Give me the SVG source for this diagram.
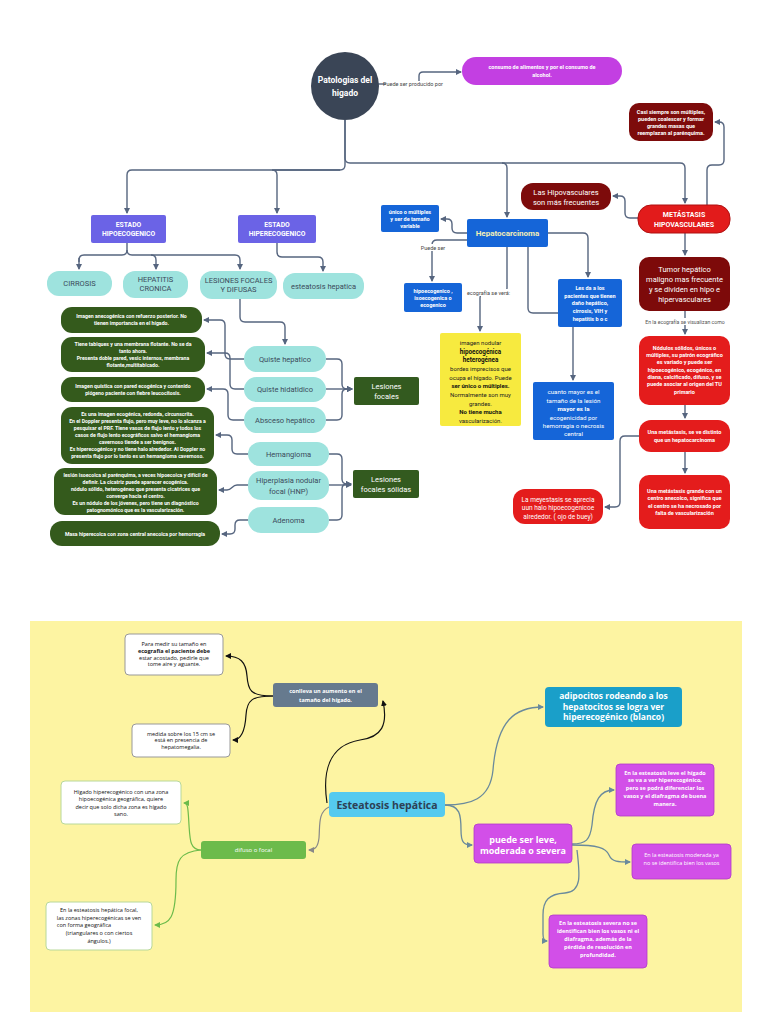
<svg xmlns="http://www.w3.org/2000/svg" width="768" height="1024" viewBox="0 0 768 1024">
<defs>
<marker id="aS" markerUnits="userSpaceOnUse" markerWidth="6" markerHeight="6" refX="5" refY="3" orient="auto"><path d="M0,0 L6,3 L0,6 z" fill="#56657f"/></marker>
<marker id="aK" markerUnits="userSpaceOnUse" markerWidth="6" markerHeight="6" refX="5" refY="3" orient="auto"><path d="M0,0 L6,3 L0,6 z" fill="#111"/></marker>
<marker id="aG" markerUnits="userSpaceOnUse" markerWidth="6" markerHeight="6" refX="5" refY="3" orient="auto"><path d="M0,0 L6,3 L0,6 z" fill="#888"/></marker>
<marker id="aN" markerUnits="userSpaceOnUse" markerWidth="6" markerHeight="6" refX="5" refY="3" orient="auto"><path d="M0,0 L6,3 L0,6 z" fill="#6cbb4b"/></marker>
<marker id="aB" markerUnits="userSpaceOnUse" markerWidth="6" markerHeight="6" refX="5" refY="3" orient="auto"><path d="M0,0 L6,3 L0,6 z" fill="#6a8a9c"/></marker>
</defs>
<style>
text{font-family:Roboto,"Liberation Sans",sans-serif;text-anchor:middle}
.c{fill:none;stroke:#56657f;stroke-width:1.4;marker-end:url(#aS)}
.cn{fill:none;stroke:#56657f;stroke-width:1.4}
.w{fill:#fff}
.b{font-weight:bold}
.teal{fill:#9ee3de}
.tt{fill:#3b4a5a;font-size:7.5px}
.lav{fill:#6b63e6}
.dg{fill:#335a1f}
.gd{fill:#345a1c}
.gt{fill:#fff;font-size:5.2px;font-weight:bold}
.blu{fill:#1565d8}
.bt{fill:#fff;font-size:5.5px;font-weight:bold}
.mar{fill:#7d0b0b}
.red{fill:#e41c1c}
.lbl{fill:#444;font-size:5.5px}
.y text{font-family:"Open Sans","Liberation Sans",sans-serif}
.wb{fill:#fff;stroke:#999;stroke-width:1}
.wg{fill:#fff;stroke:#b8d89a;stroke-width:1}
.mag{fill:#d24fe8;stroke:#b03ac8;stroke-width:0.8}
.mt{fill:#fff;font-size:5.5px;font-weight:bold}
.kt{fill:#111;font-size:5.5px}
.ck{fill:none;stroke:#111;stroke-width:1.2;marker-end:url(#aK)}
.cg{fill:none;stroke:#888;stroke-width:1.2;marker-end:url(#aG)}
.cgr{fill:none;stroke:#6cbb4b;stroke-width:1.2;marker-end:url(#aN)}
.cb{fill:none;stroke:#6a8a9c;stroke-width:1.3;marker-end:url(#aB)}
</style>
<rect width="768" height="1024" fill="#fff"/>

<g id="connectors">
<path class="cn" d="M378,84 H386"/>
<path class="c" d="M419,81 V76 Q419,72 423,72 H461"/>
<path class="c" d="M345,120 V165 Q345,170 340,170 H132 Q127,170 127,175 V213"/>
<path class="c" d="M340,170 H272 Q277,170 277,175 V213"/>
<path class="c" d="M345,120 V158 Q345,163 350,163 H502 Q507,163 507,168 V217"/>
<path class="c" d="M502,163 H680 Q685,163 685,168 V203"/>
<path class="cn" d="M127,243 V250 Q127,255 122,255 H84 Q79,255 79,260 V262"/>
<path class="c" d="M79,258 V269"/>
<path class="c" d="M127,250 Q127,255 132,255 H151 Q156,255 156,260 V269"/>
<path class="c" d="M151,255 H235 Q240,255 240,260 V269"/>
<path class="c" d="M277,243 V252 Q277,257 282,257 H318 Q323,257 323,262 V271"/>
<path class="c" d="M240,299 V317 Q240,322 245,322 H280 Q285,322 285,327 V344"/>
<path class="c" d="M326,359 H337 Q342,359 342,364 V384 Q342,389 347,389 H352"/>
<path class="c" d="M326,389 H352"/>
<path class="c" d="M326,420 H337 Q342,420 342,415 V394 Q342,389 347,389 H352"/>
<path class="c" d="M329,454 H337 Q342,454 342,459 V479 Q342,484 347,484 H351"/>
<path class="c" d="M329,485 H351"/>
<path class="c" d="M329,520 H337 Q342,520 342,515 V489 Q342,484 347,484 H351"/>
<path class="c" d="M244,359 H230 Q225,359 225,354 V325 Q225,320 220,320 H204"/>
<path class="c" d="M244,389 H235 Q230,389 230,384 V358 Q230,353 225,353 H207"/>
<path class="c" d="M244,420 H233 Q228,420 228,415 V394 Q228,389 223,389 H207"/>
<path class="c" d="M248,454 H237 Q232,454 232,449 V440 Q232,435 227,435 H216"/>
<path class="c" d="M248,485 H237 C232,485 232,490 227,490 H219"/>
<path class="c" d="M248,520 H240 Q235,520 235,525 V529 Q235,534 230,534 H222"/>
<path class="c" d="M467,233 H457 Q452,233 452,228 V224 Q452,219 447,219 H441"/>
<path class="c" d="M467,240 H437 Q432,240 432,245 V281"/>
<path class="c" d="M507,247 V288 Q507,293 502,293 H485 Q480,293 480,298 V331"/>
<path class="c" d="M548,233 H583 Q588,233 588,238 V277"/>
<path class="cn" d="M528,247 V308 Q528,313 533,313 H558"/>
<path class="c" d="M573,327 V380"/>
<path class="c" d="M638,218 H630 Q625,218 625,213 V201 Q625,196 620,196 H613"/>
<path class="c" d="M707,205 V170 Q707,165 712,165 H719 Q724,165 724,160 V127 Q724,122 719,122 H715"/>
<path class="c" d="M685,233 V255"/>
<path class="c" d="M685,311 V334"/>
<path class="c" d="M685,405 V418"/>
<path class="c" d="M685,452 V473"/>
<path class="c" d="M639,436 H625 Q620,436 620,441 V502 Q620,507 615,507 H605"/>
</g>

<g id="n-patologias"><circle cx="345" cy="86" r="34" fill="#3a4556"/><text x="345" y="83" class="w b" font-size="8.5">Patologias del</text><text x="345" y="96" class="w b" font-size="8.5">higado</text></g>
<g id="l-puede"><text x="413" y="86" class="lbl" font-size="5.5">Puede ser producido por</text></g>
<g id="n-consumo"><rect x="462" y="57" width="160" height="28" rx="14" fill="#c33fe2"/><text x="542" y="69" class="mt" font-size="5.8">consumo de alimentos y por el consumo de</text><text x="542" y="77" class="mt" font-size="5.8">alcohol.</text></g>

<g id="n-hipo"><rect x="91" y="215" width="75" height="28" rx="2" class="lav"/><text x="128.5" y="227" class="w b" font-size="6.8">ESTADO</text><text x="128.5" y="236" class="w b" font-size="6.8">HIPOECOGENICO</text></g>
<g id="n-hiper"><rect x="238" y="215" width="78" height="28" rx="2" class="lav"/><text x="277" y="227" class="w b" font-size="6.8">ESTADO</text><text x="277" y="236" class="w b" font-size="6.8">HIPERECOGENICO</text></g>
<g id="n-cirrosis"><rect x="47" y="271" width="65" height="25" rx="12" class="teal"/><text x="79.5" y="286" class="tt" font-size="7">CIRROSIS</text></g>
<g id="n-hepatitis"><rect x="123" y="271" width="65" height="27" rx="12" class="teal"/><text x="155.5" y="282" class="tt" font-size="6.8">HEPATITIS</text><text x="155.5" y="291" class="tt" font-size="6.8">CRONICA</text></g>
<g id="n-lesiones"><rect x="200" y="271" width="77" height="28" rx="12" class="teal"/><text x="238.5" y="283" class="tt" font-size="6.8">LESIONES FOCALES</text><text x="238.5" y="292" class="tt" font-size="6.8">Y DIFUSAS</text></g>
<g id="n-esteatosis1"><rect x="283" y="273" width="81" height="26" rx="12" class="teal"/><text x="323.5" y="289" class="tt" font-size="6.8">esteatosis hepatica</text></g>

<g id="n-qhep"><rect x="244" y="346" width="82" height="26" rx="13" class="teal"/><text x="285" y="362" class="tt">Quiste hepatico</text></g>
<g id="n-qhid"><rect x="244" y="377" width="82" height="25" rx="12.5" class="teal"/><text x="285" y="392" class="tt">Quiste hidatidico</text></g>
<g id="n-absceso"><rect x="244" y="407" width="82" height="26" rx="13" class="teal"/><text x="285" y="423" class="tt">Absceso hepático</text></g>
<g id="n-hemangioma"><rect x="248" y="442" width="81" height="24" rx="12" class="teal"/><text x="288.5" y="457" class="tt">Hemangioma</text></g>
<g id="n-hnp"><rect x="248" y="471" width="81" height="29" rx="13" class="teal"/><text x="288.5" y="483" class="tt">Hiperplasia nodular</text><text x="288.5" y="494" class="tt">focal (HNP)</text></g>
<g id="n-adenoma"><rect x="248" y="507" width="81" height="26" rx="13" class="teal"/><text x="288.5" y="523" class="tt">Adenoma</text></g>
<g id="n-lfocales"><rect x="354" y="377" width="65" height="28" rx="2" class="dg"/><text x="386.5" y="389" class="w" font-size="7.5">Lesiones</text><text x="386.5" y="399" class="w" font-size="7.5">focales</text></g>
<g id="n-lsolidas"><rect x="353" y="470" width="66" height="28" rx="2" class="dg"/><text x="386" y="482" class="w" font-size="7.5">Lesiones</text><text x="386" y="492" class="w" font-size="7.5">focales sólidas</text></g>

<g id="n-d1"><rect x="61" y="307" width="141" height="26" rx="11" class="gd"/><text x="131.5" y="318" class="gt">Imagen anecogénica con refuerzo posterior. No</text><text x="131.5" y="325" class="gt">tienen importancia en el hígado.</text></g>
<g id="n-d2"><rect x="61" y="337" width="144" height="35" rx="11" class="gd"/><text x="133" y="346" class="gt">Tiene tabiques y una membrana flotante. No se da</text><text x="133" y="352.5" class="gt">tanto ahora.</text><text x="133" y="360" class="gt" font-size="5.6">Presenta doble pared, vesic internos, membrana</text><text x="133" y="367" class="gt" font-size="5.6">flotante,multitabicado.</text></g>
<g id="n-d3"><rect x="61" y="377" width="144" height="25" rx="11" class="gd"/><text x="133" y="388" class="gt">Imagen quística con pared ecogénica y contenido</text><text x="133" y="395" class="gt">piógeno paciente con fiebre leucocitosis.</text></g>
<g id="n-d4"><rect x="61" y="407" width="153" height="57" rx="11" class="gd"/><text x="137.5" y="416" class="gt" font-size="4.8">Es una imagen ecogénica, redonda, circunscrita.</text><text x="137.5" y="423" class="gt" font-size="4.8">En el Doppler presenta flujo, pero muy leve, no lo alcanza a</text><text x="137.5" y="430" class="gt" font-size="4.8">pesquisar el PRF. Tiene vasos de flujo lento y todos los</text><text x="137.5" y="437" class="gt" font-size="4.8">casos de flujo lento ecográficos salvo el hemangioma</text><text x="137.5" y="444" class="gt" font-size="4.8">cavernoso tiende a ser benignos.</text><text x="137.5" y="451" class="gt" font-size="4.8">Es hiperecogénico y no tiene halo alrededor. Al Doppler no</text><text x="137.5" y="458" class="gt" font-size="4.8">presenta flujo por lo tanto es un hemangioma cavernoso.</text></g>
<g id="n-d5"><rect x="54" y="468" width="163" height="47" rx="11" class="gd"/><text x="135.5" y="477" class="gt" font-size="4.8">lesión isoecoica al parénquima, a veces hipoecoica y difícil de</text><text x="135.5" y="484" class="gt" font-size="4.8">definir. La cicatriz puede aparecer ecogénica.</text><text x="135.5" y="491" class="gt" font-size="4.8">nódulo sólido, heterogéneo que presenta cicatrices que</text><text x="135.5" y="498" class="gt" font-size="4.8">converge hacia el centro.</text><text x="135.5" y="505" class="gt" font-size="4.8">Es un nódulo de los jóvenes, pero tiene un diagnóstico</text><text x="135.5" y="512" class="gt" font-size="4.8">patognomónico que es la vascularización.</text></g>
<g id="n-d6"><rect x="50" y="521" width="170" height="25" rx="12" class="gd"/><text x="135" y="535.5" class="gt">Masa hiperecoica con zona central anecoica por hemorragia</text></g>

<g id="n-hepato"><rect x="467" y="219" width="81" height="28" rx="2" class="blu"/><text x="507.5" y="236" fill="#f3efb5" font-size="8" font-weight="bold">Hepatocarcinoma</text></g>
<g id="n-unico"><rect x="381" y="205" width="58" height="27" rx="2" class="blu"/><text x="410" y="214" class="bt">único o múltiples</text><text x="410" y="221" class="bt">y ser de tamaño</text><text x="410" y="228" class="bt">variable</text></g>
<g id="l-puedeser"><rect x="421" y="244" width="24" height="7" fill="#fff"/><text x="433" y="250" class="lbl">Puede ser</text></g>
<g id="n-hipoeco"><rect x="404" y="283" width="58" height="29" rx="2" class="blu"/><text x="433" y="293" class="bt">hipoecogenico ,</text><text x="433" y="300" class="bt">isoecogenica o</text><text x="433" y="307" class="bt">ecogenico</text></g>
<g id="l-ecografia"><rect x="465" y="289" width="47" height="7" fill="#fff"/><text x="488.5" y="295" class="lbl">ecografía se verá:</text></g>
<g id="n-yellow"><rect x="440" y="333" width="81" height="93" rx="2" fill="#f7ea3f"/>
<text x="480.5" y="345" fill="#222" font-size="6">imagen nodular</text>
<text x="480.5" y="353.5" fill="#111" font-size="6.3" font-weight="bold">hipoecogénica</text>
<text x="480.5" y="362" fill="#111" font-size="6.3" font-weight="bold">heterogénea</text>
<text x="480.5" y="371" fill="#222" font-size="6">bordes imprecisos que</text>
<text x="480.5" y="379.5" fill="#222" font-size="6">ocupa el hígado. Puede</text>
<text x="480.5" y="388" fill="#111" font-size="6" font-weight="bold">ser único o múltiples.</text>
<text x="480.5" y="397" fill="#222" font-size="6">Normalmente son muy</text>
<text x="480.5" y="405.5" fill="#222" font-size="6">grandes.</text>
<text x="480.5" y="414" fill="#111" font-size="6" font-weight="bold">No tiene mucha</text>
<text x="480.5" y="422.5" fill="#222" font-size="6">vascularización.</text></g>
<g id="n-lesda"><rect x="558" y="279" width="64" height="48" rx="2" class="blu"/><text x="590" y="290" class="bt">Les da a los</text><text x="590" y="298" class="bt">pacientes que tienen</text><text x="590" y="305" class="bt">daño hepático,</text><text x="590" y="313" class="bt">cirrosis, VIH y</text><text x="590" y="321" class="bt">hepatitis b o c</text></g>
<g id="n-cuanto"><rect x="533" y="382" width="81" height="58" rx="2" class="blu"/><text x="573.5" y="394" class="w" font-size="6.2">cuanto mayor es el</text><text x="573.5" y="402.5" class="w" font-size="6.2">tamaño de la lesión</text><text x="573.5" y="411" class="w b" font-size="6.2">mayor es la</text><text x="573.5" y="419.5" class="w" font-size="6.2">ecogenicidad por</text><text x="573.5" y="428" class="w" font-size="6.2">hemorragia o necrosis</text><text x="573.5" y="436" class="w" font-size="6.2">central</text></g>

<g id="n-metastasis"><rect x="638" y="205" width="92" height="28" rx="13" fill="#e21b1b" stroke="#b01010"/><text x="684" y="217" class="w b" font-size="7">METÁSTASIS</text><text x="684" y="227" class="w b" font-size="7">HIPOVASCULARES</text></g>
<g id="n-hipovasc"><rect x="521" y="183" width="90" height="27" rx="12" class="mar"/><text x="566" y="195" class="w" font-size="7.5">Las Hipovasculares</text><text x="566" y="205" class="w" font-size="7.5">son más frecuentes</text></g>
<g id="n-casi"><rect x="629" y="103" width="84" height="38" rx="10" class="mar"/><text x="671" y="114" class="bt">Casi siempre son múltiples,</text><text x="671" y="121" class="bt">pueden coalescer y formar</text><text x="671" y="128" class="bt">grandes masas que</text><text x="671" y="135" class="bt">reemplazan al parénquima.</text></g>
<g id="n-tumor"><rect x="639" y="257" width="91" height="54" rx="10" fill="#7d0a0a"/><text x="684.5" y="272" class="w" font-size="7.5">Tumor hepático</text><text x="684.5" y="282" class="w" font-size="7.5">maligno mas frecuente</text><text x="684.5" y="292" class="w" font-size="7.5">y se dividen en hipo e</text><text x="684.5" y="302" class="w" font-size="7.5">hipervasculares</text></g>
<g id="l-enla"><rect x="641" y="318" width="88" height="7" fill="#fff"/><text x="685" y="323.5" fill="#555" font-size="5.2">En la ecografía se visualizan como</text></g>
<g id="n-nodulos"><rect x="639" y="336" width="91" height="69" rx="10" class="red"/><text x="684.5" y="350" class="bt" font-size="5">Nódulos sólidos, únicos o</text><text x="684.5" y="357" class="bt" font-size="5">múltiples, su patrón ecográfico</text><text x="684.5" y="364" class="bt" font-size="5">es variado y puede ser</text><text x="684.5" y="371.5" class="bt" font-size="5">hipoecogénico, ecogénico, en</text><text x="684.5" y="378.5" class="bt" font-size="5">diana, calcificado, difuso, y se</text><text x="684.5" y="386" class="bt" font-size="5">puede asociar al origen del TU</text><text x="684.5" y="393.5" class="bt" font-size="5">primario</text></g>
<g id="n-distinto"><rect x="639" y="420" width="91" height="32" rx="12" class="red"/><text x="684.5" y="434" class="bt">Una metástasis, se ve distinto</text><text x="684.5" y="442" class="bt">que un hepatocarcinoma</text></g>
<g id="n-grande"><rect x="639" y="475" width="91" height="54" rx="10" class="red"/><text x="684.5" y="492.5" class="bt">Una metástasis grande con un</text><text x="684.5" y="500" class="bt">centro anecoico, significa que</text><text x="684.5" y="507.5" class="bt">el centro se ha necrosado por</text><text x="684.5" y="515" class="bt">falta de vascularización</text></g>
<g id="n-halo"><rect x="513" y="489" width="90" height="35" rx="12" class="red"/><text x="558" y="501.5" class="w" font-size="6.5">La meyestasis se aprecia</text><text x="558" y="510" class="w" font-size="6.5">uun halo hipoecogenicoe</text><text x="558" y="519" class="w" font-size="6.5">alrededor. ( ojo de buey)</text></g>

<g class="y">
<rect x="30" y="621" width="712" height="391" fill="#fdf4a2"/>
<g id="connectors-bottom">
<path class="ck" d="M273,696 C250,696 248,690 247,676 C246,662 240,656 226,656"/>
<path class="ck" d="M273,696 C252,696 247,700 246,715 C245,732 240,740 233,740"/>
<path class="ck" d="M327,803 C322,770 330,745 360,740 C382,737 388,725 383,701"/>
<path class="cg" d="M329,807 C318,812 320,825 319,838 C318,847 315,850 309,850"/>
<path class="cgr" d="M201,850 C190,850 190,840 189,825 C188,808 188,803 184,803"/>
<path class="cgr" d="M201,850 C180,852 176,860 176,880 C176,918 170,925 155,925"/>
<path class="cb" d="M445,805 C470,805 490,800 493,770 C497,720 515,707 543,707"/>
<path class="cb" d="M445,805 C460,805 461,815 461,830 C461,843 464,845 472,845"/>
<path class="cb" d="M572,844 C586,844 590,840 592,825 C594,800 600,790 614,790"/>
<path class="cb" d="M572,845 C598,845 606,848 609,855 C612,862 618,862 630,862"/>
<path class="cb" d="M577,850 C580,875 582,892 565,893 C549,894 543,900 543,915 V934 Q543,941 547,941"/>
</g>
<g id="n-paramedir"><rect x="125" y="634" width="98" height="41" rx="4" class="wb"/><text x="174" y="646" class="kt">Para medir su tamaño en</text><text x="174" y="653" class="kt" font-weight="bold">ecografía el paciente debe</text><text x="174" y="659.5" class="kt">estar acostado, pedirle que</text><text x="174" y="666" class="kt">tome aire y aguante.</text></g>
<g id="n-conlleva"><rect x="273" y="683" width="105" height="24" rx="3" fill="#667a8e"/><text x="325.5" y="693" class="mt">conlleva un aumento en el</text><text x="325.5" y="701.5" class="mt">tamaño del hígado.</text></g>
<g id="n-medida"><rect x="132" y="724" width="98" height="33" rx="4" class="wb"/><text x="181" y="735.5" class="kt">medida sobre los 15 cm se</text><text x="181" y="742" class="kt">está en presencia de</text><text x="181" y="749" class="kt">hepatomegalia.</text></g>
<g id="n-esteatosis"><rect x="329" y="792" width="116" height="25" rx="4" fill="#55caef"/><text x="387" y="808.5" fill="#2d4156" font-size="10.5" font-weight="bold">Esteatosis hepática</text></g>
<g id="n-difuso"><rect x="201" y="841" width="105" height="18" rx="3" fill="#6cbb4b"/><text x="253.5" y="852" fill="#fff" font-size="6">difuso o focal</text></g>
<g id="n-higado"><rect x="61" y="781" width="120" height="43" rx="4" class="wg"/><text x="121" y="793.5" class="kt">Hígado hiperecogénico con una zona</text><text x="121" y="801" class="kt">hipoecogénica geográfica, quiere</text><text x="121" y="808.5" class="kt">decir que solo dicha zona es hígado</text><text x="121" y="816" class="kt">sano.</text></g>
<g id="n-focal"><rect x="46" y="902" width="106" height="48" rx="4" class="wg"/><text x="99" y="912" class="kt" font-size="5.8">En la esteatosis hepática focal,</text><text x="99" y="919.5" class="kt" font-size="5.8">las zonas hiperecogénicas se ven</text><text x="84" y="927" class="kt" font-size="5.8">con forma geográfica</text><text x="99" y="935" class="kt" font-size="5.8">(triangulares o con ciertos</text><text x="99" y="943" class="kt" font-size="5.8">ángulos.)</text></g>
<g id="n-adipocitos"><rect x="545" y="687" width="137" height="40" rx="4" fill="#1a9fc9"/><text x="613.5" y="699" fill="#fff" font-size="8.5" font-weight="bold">adipocitos rodeando a los</text><text x="613.5" y="709.5" fill="#fff" font-size="8.5" font-weight="bold">hepatocitos se logra ver</text><text x="613.5" y="720" fill="#fff" font-size="8.5" font-weight="bold">hiperecogénico (blanco)</text></g>
<g id="n-puede"><rect x="474" y="824" width="98" height="39" rx="4" class="mag"/><text x="523" y="843" fill="#fff" font-size="9" font-weight="bold">puede ser leve,</text><text x="523" y="854" fill="#fff" font-size="9" font-weight="bold">moderada o severa</text></g>
<g id="n-leve"><rect x="616" y="764" width="98" height="52" rx="4" class="mag"/><text x="665" y="774.5" class="mt">En la esteatosis leve el hígado</text><text x="665" y="782" class="mt">se va a ver hiperecogénico,</text><text x="665" y="790" class="mt">pero se podrá diferenciar los</text><text x="665" y="798" class="mt">vasos y el diafragma de buena</text><text x="665" y="806" class="mt">manera.</text></g>
<g id="n-moderada"><rect x="632" y="844" width="99" height="35" rx="4" class="mag"/><text x="681.5" y="856.5" class="w" font-size="5.5">En la esteatosis moderada ya</text><text x="681.5" y="865" class="w" font-size="5.5">no se identifica bien los vasos</text></g>
<g id="n-severa"><rect x="549" y="915" width="98" height="53" rx="4" class="mag"/><text x="598" y="925" class="mt" font-size="5.8">En la esteatosis severa no se</text><text x="598" y="933" class="mt" font-size="5.8">identifican bien los vasos ni el</text><text x="598" y="941" class="mt" font-size="5.8">diafragma, además de la</text><text x="598" y="949" class="mt" font-size="5.8">pérdida de resolución en</text><text x="598" y="957" class="mt" font-size="5.8">profundidad.</text></g>
</g>
</svg>
